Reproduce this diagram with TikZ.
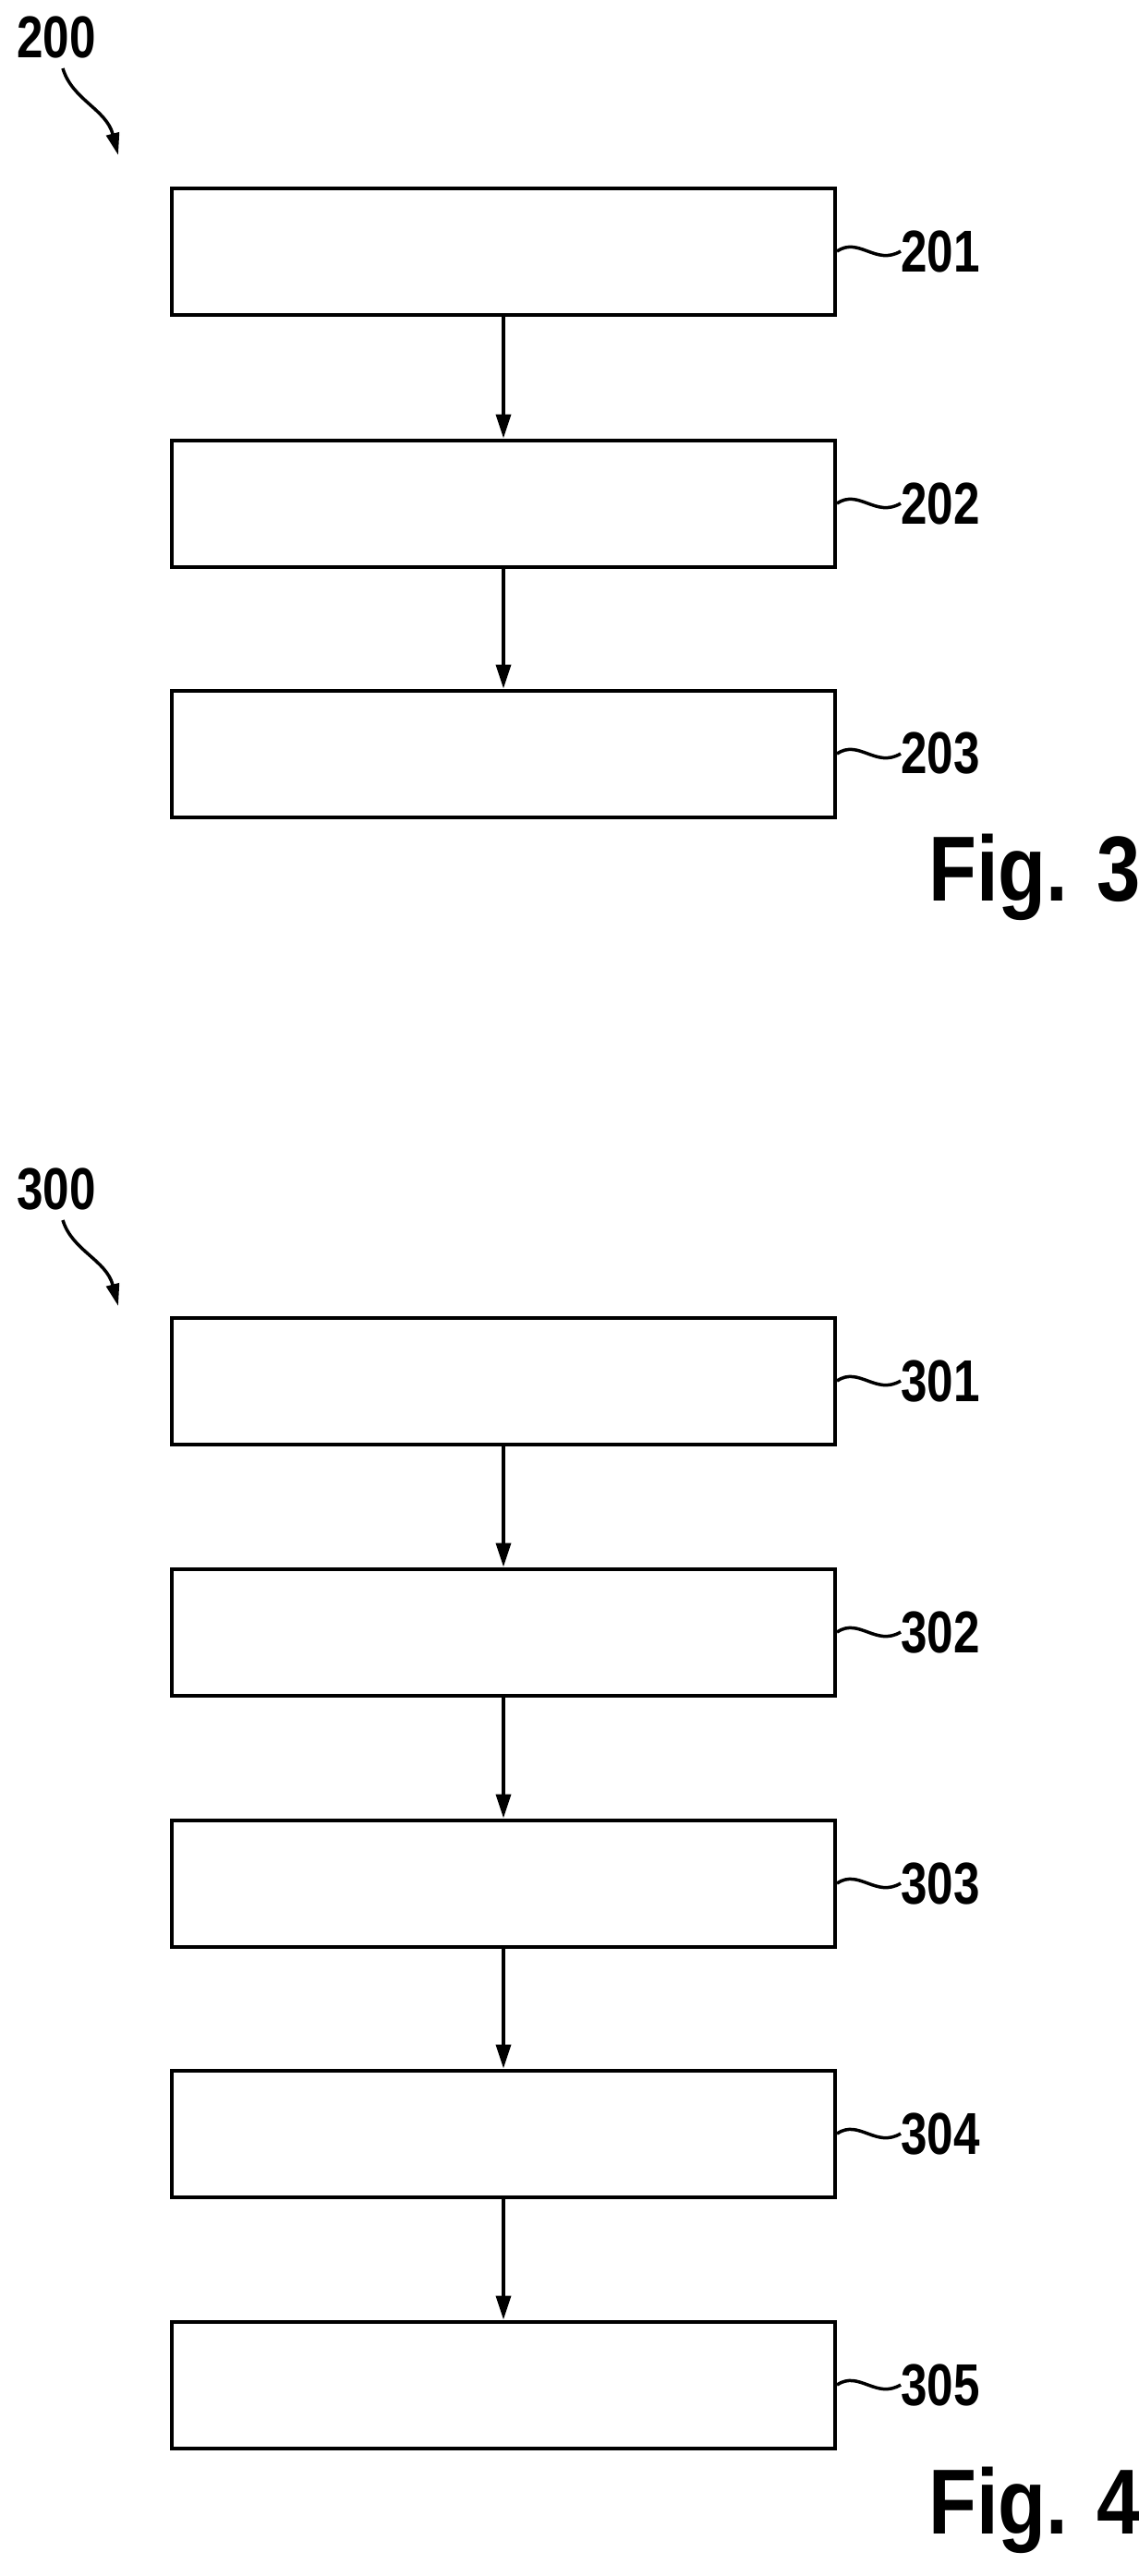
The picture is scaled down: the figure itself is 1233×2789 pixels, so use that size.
\documentclass[tikz,border=0pt]{standalone}
\usepackage{fontspec}
\setmainfont{Liberation Sans}
\usetikzlibrary{arrows.meta,positioning}
\tikzset{
  stepbox/.style={draw, line width=4pt, minimum width=718pt, minimum height=137pt, inner sep=0pt},
  flow/.style={line width=3.5pt, -{Triangle[length=26pt,width=16pt]}},
  lead/.style={line width=3.5pt},
  refnum/.style={font=\fontsize{64}{64}\selectfont\bfseries, xscale=0.8, anchor=west, inner sep=0pt},
  figlbl/.style={font=\fontsize{100}{100}\selectfont\bfseries, xscale=0.85, inner sep=0pt}
}
\begin{document}
\begin{tikzpicture}[x=1pt,y=-1pt]
    \useasboundingbox (0,0) rectangle (1233,2789);
    % Fig. 3
    \node[refnum] (n200) at (18,40) {200};
    \coordinate (p200) at (128,168);
    \draw[lead, -{Triangle[length=24pt,width=14pt]}] (68,74) .. controls (78,108) and (115,118) .. (p200);
    \foreach \i/\y in {1/272, 2/545, 3/816} {
        \node[stepbox] (s20\i) at (545,\y) {};
        \node[refnum] (r20\i) at (975,\y) {20\i};
        \draw[lead] (s20\i.east) .. controls (930,\y-16) and (948,\y+16) .. (r20\i.west);
    }
    \draw[flow] (s201) -- (s202);
    \draw[flow] (s202) -- (s203);
    \node[figlbl] (fig3) at (1120,950) {Fig. 3};
    % Fig. 4
    \node[refnum] (n300) at (18,1287) {300};
    \coordinate (p300) at (128,1414);
    \draw[lead, -{Triangle[length=24pt,width=14pt]}] (68,1321) .. controls (78,1354) and (115,1364) .. (p300);
    \foreach \i/\y in {1/1495, 2/1767, 3/2039, 4/2310, 5/2582} {
        \node[stepbox] (s30\i) at (545,\y) {};
        \node[refnum] (r30\i) at (975,\y) {30\i};
        \draw[lead] (s30\i.east) .. controls (930,\y-16) and (948,\y+16) .. (r30\i.west);
    }
    \foreach \a/\b in {1/2, 2/3, 3/4, 4/5} {
        \draw[flow] (s30\a) -- (s30\b);
    }
    \node[figlbl] (fig4) at (1120,2718) {Fig. 4};
\end{tikzpicture}
\end{document}
